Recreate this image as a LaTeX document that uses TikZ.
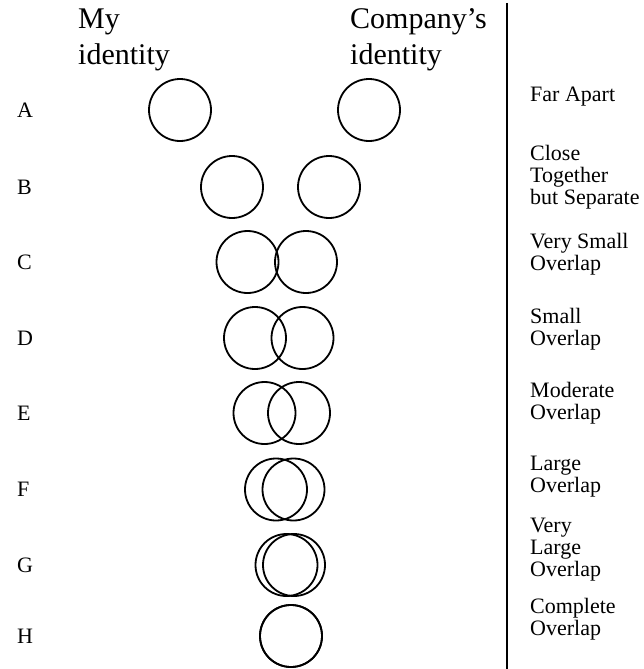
\documentclass[tikz,border=0pt]{standalone}
\usepackage{fontspec}
\setmainfont{Liberation Serif}

\tikzset{
  ring/.style={line width=1.8pt},
  rowletter/.style={anchor=base west, yshift=-7pt, inner sep=0pt, font=\fontsize{22}{22}\selectfont},
  head/.style={anchor=base west, inner sep=0pt, font=\fontsize{30}{35}\selectfont},
  degree/.style={anchor=base west, inner sep=0pt, align=left, font=\fontsize{22}{22}\selectfont}
}

\begin{document}
\begin{tikzpicture}[x=1pt,y=-1pt]
  \useasboundingbox (0,0) rectangle (643,669);
  % column heads
  \node[head] (my) at (78,29) {My};
  \node[head] (myid) at (78,64) {identity};
  \node[head] (comp) at (350,29) {Company’s};
  \node[head] (compid) at (350,64) {identity};
  % divider
  \coordinate (divtop) at (507,3);
  \coordinate (divbot) at (507,669);
  \draw[line width=1.6pt] (divtop) -- (divbot);
  % rows of circles
  \foreach \row/\y/\xl/\xr in {A/110/180/369, B/187/232/329, C/262/247.5/306,
      D/338/255/302.5, E/413/264.5/299, F/489.5/276/293.5, G/565/286.5/294, H/636/291/291}{
    \node[rowletter] (\row) at (17,\y) {\row};
    \draw[ring] (\xl,\y) circle (31pt);
    \draw[ring] (\xr,\y) circle (31pt);
  }
  % degree of overlap (anchored at the last line)
  \node[degree] (farapart) at (530,101) {Far Apart};
  \node[degree] (close) at (530,204) {Close\\Together\\but Separate};
  \node[degree] (verysmall) at (530,270) {Very Small\\Overlap};
  \node[degree] (small) at (530,345) {Small\\Overlap};
  \node[degree] (moderate) at (530,419) {Moderate\\Overlap};
  \node[degree] (large) at (530,492) {Large\\Overlap};
  \node[degree] (verylarge) at (530,576) {Very\\Large\\Overlap};
  \node[degree] (complete) at (530,635) {Complete\\Overlap};
\end{tikzpicture}
\end{document}
